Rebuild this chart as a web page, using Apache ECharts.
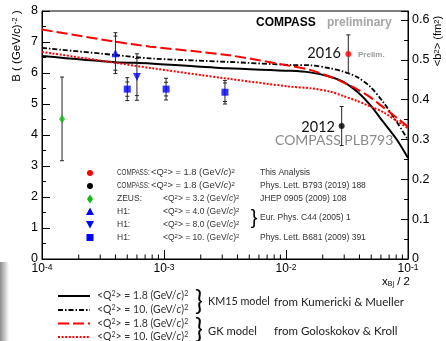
<!DOCTYPE html>
<html>
<head>
<meta charset="utf-8">
<script src="https://cdn.jsdelivr.net/npm/echarts@6/dist/echarts.min.js"></script>
<style>
  html, body { margin: 0; padding: 0; background: #fff; }
  #chart { width: 446px; height: 341px; }
</style>
</head>
<body>
<div id="chart"></div>
<script>
// model curves, B in (GeV/c)^-2 versus x_Bj/2
const curveX = [1e-4, 4e-4, 7.7e-4, 3.3e-3, 1.08e-2, 1.57e-2, 2.3e-2, 2.93e-2, 3.82e-2, 4.89e-2, 6.24e-2, 8.13e-2, 1e-1]
const km15Q18 = [6.55, 6.35, 6.31, 6.15, 6.07, 6.02, 5.88, 5.72, 5.40, 4.97, 4.43, 3.84, 3.26]
const km15Q10 = [6.81, 6.58, 6.47, 6.36, 6.26, 6.25, 6.15, 6.05, 5.87, 5.56, 5.07, 4.41, 3.84]
const gkQ18 = [7.40, 7.01, 6.85, 6.58, 6.23, 6.10, 5.88, 5.70, 5.48, 5.22, 4.90, 4.55, 4.27]
const gkQ10 = [6.68, 6.33, 6.16, 5.82, 5.56, 5.51, 5.40, 5.26, 5.10, 4.92, 4.74, 4.45, 4.22]

// measurements: [x, B, total error, stat error]
const compass2016 = [[0.0324, 6.61, 0.62, 0]]
const compass2012 = [[0.0286, 4.29, 0.63, 0]]
const zeusQ32 = [[1.46e-4, 4.52, 1.35, 0]]
const h1Q40 = [[4.0e-4, 6.64, 0.66, 0.55]]
const h1Q80 = [[6.0e-4, 5.87, 0.75, 0.6]]
const h1Q10 = [[5.0e-4, 5.48, 0.37, 0.23], [1.04e-3, 5.48, 0.35, 0.22], [3.16e-3, 5.38, 0.38, 0.3]]

const minorTicksX = [2e-4, 3e-4, 4e-4, 5e-4, 6e-4, 7e-4, 8e-4, 9e-4,
  2e-3, 3e-3, 4e-3, 5e-3, 6e-3, 7e-3, 8e-3, 9e-3,
  2e-2, 3e-2, 4e-2, 5e-2, 6e-2, 7e-2, 8e-2, 9e-2]

const modelLabels = ['<Q{s|2}> = 1.8 (GeV/{i|c}){s|2}', '<Q{s|2}> = 10. (GeV/{i|c}){s|2}',
  '<Q{s|2}> = 1.8 (GeV/{i|c}){s|2}', '<Q{s|2}> = 10. (GeV/{i|c}){s|2}']

const bToB2 = 0.0778 // <b^2> (fm^2) = 2 B (hbar c)^2

const arial = '"Liberation Sans", Arial, sans-serif'
const lato = 'Lato, "Open Sans", sans-serif'

const chart = echarts.init(document.getElementById('chart'))

const pair = (ys) => curveX.map((x, i) => [x, ys[i]])

const errorBars = (pts) => ({
  type: 'custom',
  data: pts,
  z: 4,
  clip: false,
  renderItem: (params, api) => {
    const x = api.value(0), y = api.value(1), e = api.value(2), s = api.value(3)
    const top = api.coord([x, y + e])
    const bot = api.coord([x, y - e])
    const st = { stroke: '#222', lineWidth: 1 }
    const children = [{ type: 'line', shape: { x1: top[0], y1: top[1], x2: bot[0], y2: bot[1] }, style: st }]
    const caps = s > 0 ? [y + e, y - e, y + s, y - s] : [y + e, y - e]
    caps.forEach((v) => {
      const p = api.coord([x, v])
      children.push({ type: 'line', shape: { x1: p[0] - 2, y1: p[1], x2: p[0] + 2, y2: p[1] }, style: st })
    })
    return { type: 'group', children }
  }
})

const points = (pts, symbol, size, color, rotate) => ({
  type: 'scatter',
  data: pts.map((p) => [p[0], p[1]]),
  symbol,
  symbolSize: size,
  symbolRotate: rotate || 0,
  itemStyle: { color },
  z: 5
})

const supRich = {
  s: { fontSize: 8, lineHeight: 9, verticalAlign: 'top' },
  i: { fontStyle: 'italic' }
}

// inner legend (ROOT style box without border)
const rowY = [173, 186, 199, 211.5, 224.5, 237.5]
const legTxt = (x, y, text, size, sx) => ({
  type: 'text', x, y, scaleX: sx || 1,
  style: {
    text, verticalAlign: 'middle',
    fontFamily: arial, fontSize: size, fill: '#333',
    rich: { s: { fontSize: 6, lineHeight: 6, verticalAlign: 'top' }, i: { fontStyle: 'italic', fontSize: size } }
  }
})
const q = '<Q{s|2}> = '
const innerLegend = [
  { type: 'circle', shape: { cx: 90, cy: rowY[0], r: 3 }, style: { fill: '#ff0000' } },
  { type: 'circle', shape: { cx: 90, cy: rowY[1], r: 3 }, style: { fill: '#000' } },
  { type: 'polygon', shape: { points: [[90, rowY[2] - 4.5], [93, rowY[2]], [90, rowY[2] + 4.5], [87, rowY[2]]] }, style: { fill: '#11bb11' } },
  { type: 'polygon', shape: { points: [[90, rowY[3] - 4], [94, rowY[3] + 3.5], [86, rowY[3] + 3.5]] }, style: { fill: '#0000ff' } },
  { type: 'polygon', shape: { points: [[90, rowY[4] + 4], [94, rowY[4] - 3.5], [86, rowY[4] - 3.5]] }, style: { fill: '#0000ff' } },
  { type: 'rect', shape: { x: 86.5, y: rowY[5] - 3.5, width: 7, height: 7 }, style: { fill: '#0000ff' } },
  legTxt(117, rowY[0], 'COMPASS:', 8.5, 0.74),
  legTxt(117, rowY[1], 'COMPASS:', 8.5, 0.74),
  legTxt(117, rowY[2], 'ZEUS:', 8.5),
  legTxt(117, rowY[3], 'H1:', 8.5),
  legTxt(117, rowY[4], 'H1:', 8.5),
  legTxt(117, rowY[5], 'H1:', 8.5),
  legTxt(151, rowY[0], q + '1.8 (GeV/{i|c}){s|2}', 8.5, 1.1),
  legTxt(151, rowY[1], q + '1.8 (GeV/{i|c}){s|2}', 8.5, 1.1),
  legTxt(163, rowY[2], q + '3.2 (GeV/{i|c}){s|2}', 8.5),
  legTxt(163, rowY[3], q + '4.0 (GeV/{i|c}){s|2}', 8.5),
  legTxt(163, rowY[4], q + '8.0 (GeV/{i|c}){s|2}', 8.5),
  legTxt(163, rowY[5], q + '10. (GeV/{i|c}){s|2}', 8.5),
  legTxt(260, rowY[0], 'This Analysis', 8.5),
  legTxt(260, rowY[1], 'Phys. Lett. B793 (2019) 188', 8.5),
  legTxt(260, rowY[2], 'JHEP 0905 (2009) 108', 8.5),
  legTxt(260, (rowY[3] + rowY[4]) / 2, 'Eur. Phys. C44 (2005) 1', 8.5),
  legTxt(260, rowY[5], 'Phys. Lett. B681 (2009) 391', 8.5),
  { type: 'text', x: 254, y: (rowY[3] + rowY[4]) / 2, style: { text: '}', align: 'center', verticalAlign: 'middle', fontFamily: arial, fontSize: 20, fill: '#000' } }
]

// bottom legend for the model curves
const legRowY = [296, 310, 323.5, 337]
const legLine = (y, color, width, dash) => ({
  type: 'line', shape: { x1: 58, y1: y, x2: 90, y2: y },
  style: { stroke: color, lineWidth: width, lineDash: dash || null }
})
const modelLegend = [
  legLine(legRowY[0], '#000', 2),
  legLine(legRowY[1], '#000', 1.8, [5, 2, 1.5, 2]),
  legLine(legRowY[2], '#ff0000', 2, [11, 4]),
  legLine(legRowY[3], '#ff0000', 2, [2, 1.6]),
  ...modelLabels.map((t, i) => ({
    type: 'text', x: 97, y: legRowY[i],
    style: {
      text: t, verticalAlign: 'middle', fontFamily: lato, fontSize: 10.5, fill: '#333',
      rich: { s: { fontFamily: lato, fontSize: 7, lineHeight: 7, verticalAlign: 'top', fill: '#333' }, i: { fontFamily: lato, fontSize: 10.5, fontStyle: 'italic', fill: '#333' } }
    }
  })),
  { type: 'text', x: 199, y: 302, style: { text: '}', align: 'center', verticalAlign: 'middle', fontFamily: lato, fontSize: 26, fill: '#000' } },
  { type: 'text', x: 199, y: 330, style: { text: '}', align: 'center', verticalAlign: 'middle', fontFamily: lato, fontSize: 26, fill: '#000' } },
  { type: 'text', x: 208, y: 302, style: { text: 'KM15 model', verticalAlign: 'middle', fontFamily: lato, fontSize: 10.8, fill: '#222' } },
  { type: 'text', x: 274, y: 302, style: { text: 'from Kumericki & Mueller', verticalAlign: 'middle', fontFamily: lato, fontSize: 11.5, fill: '#222' } },
  { type: 'text', x: 208, y: 331, style: { text: 'GK model', verticalAlign: 'middle', fontFamily: lato, fontSize: 11.2, fill: '#222' } },
  { type: 'text', x: 274, y: 331, style: { text: 'from Goloskokov & Kroll', verticalAlign: 'middle', fontFamily: lato, fontSize: 11.5, fill: '#222' } }
]

const option = {
  animation: false,
  backgroundColor: '#fff',
  grid: { left: 42, top: 11, right: 38, bottom: 82, show: true, borderColor: '#000', borderWidth: 1 },
  xAxis: {
    type: 'log',
    logBase: 10,
    min: 1e-4,
    max: 0.1,
    axisLine: { lineStyle: { color: '#000' } },
    axisTick: { inside: true, length: 9, lineStyle: { color: '#000' } },
    splitLine: { show: false },
    axisLabel: {
      margin: 4,
      color: '#000',
      fontFamily: arial,
      fontSize: 12,
      showMaxLabel: true,
      formatter: (v) => '10{s|' + Math.round(Math.log10(v)) + '}',
      rich: { s: { fontSize: 8.5, lineHeight: 9, verticalAlign: 'top', fontFamily: arial } }
    }
  },
  yAxis: [
    {
      type: 'value', min: 0, max: 8, interval: 1,
      axisLine: { show: true, lineStyle: { color: '#000' } },
      axisTick: { inside: true, length: 8, lineStyle: { color: '#000' } },
      minorTick: { show: true, splitNumber: 2, length: 4, lineStyle: { color: '#000' } },
      splitLine: { show: false },
      axisLabel: { margin: 4, color: '#000', fontFamily: arial, fontSize: 12.5 }
    },
    {
      type: 'value', min: 0, max: 8 * bToB2, interval: 0.1, position: 'right',
      axisLine: { show: true, lineStyle: { color: '#000' } },
      axisTick: { inside: true, length: 7, lineStyle: { color: '#000' } },
      minorTick: { show: true, splitNumber: 2, length: 4, lineStyle: { color: '#000' } },
      splitLine: { show: false },
      axisLabel: { margin: 4, color: '#000', fontFamily: arial, fontSize: 12.5, showMaxLabel: false }
    }
  ],
  graphic: [
    { type: 'rect', shape: { x: 0, y: 262, width: 9, height: 79 }, style: { fill: new echarts.graphic.LinearGradient(0, 0, 1, 0, [{ offset: 0, color: '#8c8c8c' }, { offset: 1, color: '#ffffff' }]) } },
    { type: 'text', x: 17, y: 46, rotation: Math.PI / 2, style: { text: 'B ( (GeV/c){s|-2} )', align: 'center', verticalAlign: 'middle', fontFamily: arial, fontSize: 11.5, fill: '#000', rich: supRich } },
    { type: 'text', x: 438, y: 41, rotation: Math.PI / 2, style: { text: '<b{s|2}> (fm{s|2})', align: 'center', verticalAlign: 'middle', fontFamily: arial, fontSize: 11, fill: '#000', rich: supRich } },
    { type: 'text', x: 410, y: 282, style: { text: 'x{s|Bj} / 2', align: 'right', verticalAlign: 'middle', fontFamily: arial, fontSize: 11.5, fill: '#000', rich: { s: { fontSize: 7, lineHeight: 7, verticalAlign: 'bottom', padding: [6, 0, 0, 0] } } } },
    { type: 'text', x: 256, y: 23, style: { text: 'COMPASS', verticalAlign: 'middle', fontFamily: arial, fontWeight: 'bold', fontSize: 12, fill: '#000' } },
    { type: 'text', x: 327, y: 23, style: { text: 'preliminary', verticalAlign: 'middle', fontFamily: arial, fontWeight: 'bold', fontSize: 12, fill: '#a6a6a6' } },
    { type: 'text', x: 341, y: 53.5, style: { text: '2016', align: 'right', verticalAlign: 'middle', fontFamily: lato, fontSize: 14.5, fill: '#111' } },
    { type: 'text', x: 358, y: 54.5, style: { text: 'Prelim.', verticalAlign: 'middle', fontFamily: arial, fontWeight: 'bold', fontSize: 8, fill: '#999' } },
    { type: 'text', x: 335, y: 127, style: { text: '2012', align: 'right', verticalAlign: 'middle', fontFamily: lato, fontSize: 14.5, fill: '#111' } },
    { type: 'text', x: 275, y: 140, style: { text: 'COMPASS PLB793', verticalAlign: 'middle', fontFamily: lato, fontSize: 14, fill: '#8a8a8a' } },
    ...modelLegend,
    ...innerLegend
  ],
  series: [
    {
      type: 'custom',
      data: minorTicksX.map((x) => [x, 0]),
      silent: true,
      renderItem: (params, api) => {
        const p = api.coord([api.value(0), 0])
        return { type: 'line', shape: { x1: p[0], y1: p[1], x2: p[0], y2: p[1] - 4.5 }, style: { stroke: '#000', lineWidth: 1 } }
      }
    },
    { name: 'KM15 1.8', type: 'line', data: pair(km15Q18), symbol: 'none', smooth: 0.3, lineStyle: { color: '#000', width: 2 }, z: 3 },
    { name: 'KM15 10', type: 'line', data: pair(km15Q10), symbol: 'none', smooth: 0.3, lineStyle: { color: '#000', width: 1.8, type: [5, 2, 1.5, 2] }, z: 3 },
    { name: 'GK 1.8', type: 'line', data: pair(gkQ18), symbol: 'none', smooth: 0.3, lineStyle: { color: '#ff0000', width: 2, type: [11, 4] }, z: 3 },
    { name: 'GK 10', type: 'line', data: pair(gkQ10), symbol: 'none', smooth: 0.3, lineStyle: { color: '#ff0000', width: 2, type: [2, 1.6] }, z: 3 },
    errorBars(compass2016),
    errorBars(compass2012),
    errorBars(zeusQ32),
    errorBars(h1Q40),
    errorBars(h1Q80),
    errorBars(h1Q10),
    points(compass2016, 'circle', 6, '#ff0000'),
    points(compass2012, 'circle', 6, '#000'),
    points(zeusQ32, 'diamond', [6, 9], '#11bb11'),
    points(h1Q40, 'triangle', 8, '#0000ff'),
    points(h1Q80, 'triangle', 8, '#0000ff', 180),
    points(h1Q10, 'rect', 7, '#0000ff')
  ]
}

chart.setOption(option)
</script>
</body>
</html>
